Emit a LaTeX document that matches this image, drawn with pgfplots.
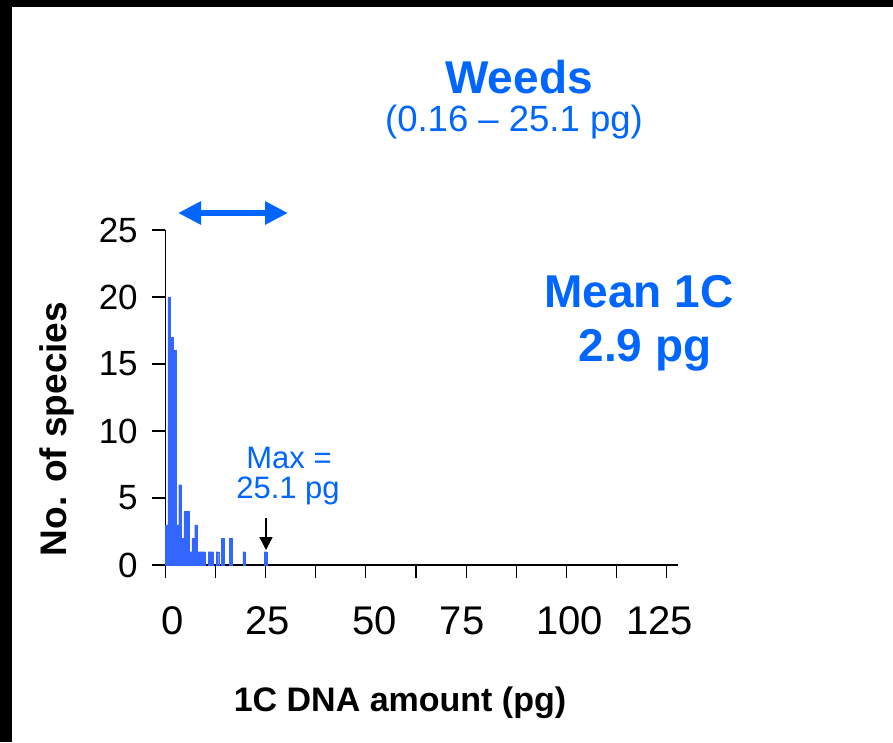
\documentclass[border=0pt]{standalone}
\usepackage{fontspec}
\setmainfont{Liberation Sans}
\usepackage{pgfplots}
\pgfplotsset{compat=1.18}
\usetikzlibrary{arrows.meta}
\definecolor{barblue}{HTML}{3366FF}
\definecolor{txtblue}{HTML}{0066FF}
\newcommand\fs[1]{\fontsize{#1}{#1}\selectfont}
% tick label nudged sideways, as in the original slide
\newcommand\nudge[2]{\makebox[0pt][c]{\kern#1 #2\kern-#1}}

\begin{document}
\begin{tikzpicture}[x=1pt,y=1pt]
\useasboundingbox (0,0) rectangle (893,742);
% frame bands
\fill[black] (0,735) rectangle (893,742);
\fill[black] (0,0) rectangle (12,742);

\begin{axis}[
  at={(154pt,177pt)}, anchor=south west,
  scale only axis, width=524pt, height=335pt,
  xmin=-2.8, xmax=127.8, ymin=0, ymax=25,
  axis x line*=bottom, axis y line*=center,
  hide obscured x ticks=false, hide obscured y ticks=false,
  axis line style={line width=1.2pt},
  tick align=outside, major tick length=13pt,
  tick style={line width=1.1pt, black},
  xtick={0,12.5,...,125},
  xticklabels={\nudge{7pt}{0},,\nudge{2pt}{25},,\nudge{9pt}{50},,
    \nudge{-4pt}{75},,\nudge{3pt}{100},,\nudge{-7pt}{125}},
  ytick={0,5,...,25},
  xticklabel style={font=\fs{40}, yshift=-25pt},
  yticklabel style={font=\fs{35}, xshift=-11pt},
  /pgf/number format/assume math mode=true,
  clip=false,
]
% 1C values binned at 2/3 pg, bar centres
\addplot[ybar, bar width=0.6667, fill=barblue, draw=barblue, line width=0.2pt]
coordinates {(0.333,3) (1.0,20) (1.667,17) (2.333,16) (3.0,3) (3.667,6)
  (4.333,2) (5.0,4) (5.667,4) (6.333,1) (7.0,2) (7.667,3) (8.333,1)
  (9.0,1) (9.667,1) (11.0,1) (11.667,1) (13.0,1) (14.333,2) (16.333,2)
  (19.667,1) (25.0,1)};
\end{axis}

\node[rotate=90, font=\bfseries\fs{37}] at (57,313) {No. of species};
\node[anchor=base, font=\bfseries\fs{34}] at (400,31) {1C DNA amount (pg)};

\node[anchor=base, text=txtblue, font=\bfseries\fs{46}] at (519,648) {Weeds};
\node[anchor=base, text=txtblue, font=\fs{36.5}] at (514,610) {(0.16 -- 25.1 pg)};
\node[anchor=base, text=txtblue, font=\bfseries\fs{46}] at (639,434) {Mean 1C};
\node[anchor=base, text=txtblue, font=\bfseries\fs{46}] at (645,380) {2.9 pg};
\node[anchor=base, text=txtblue, font=\fs{31}] at (289,274) {Max =};
\node[anchor=base, text=txtblue, font=\fs{31}] at (288,244) {25.1 pg};

\draw[line width=1.4pt, -{Triangle[length=13pt,width=13pt]}] (266,224) -- (266,192);
\draw[txtblue, line width=6.5pt,
  {Triangle[length=23pt,width=22pt]}-{Triangle[length=23pt,width=22pt]}]
  (178,529) -- (288,529);
\end{tikzpicture}
\end{document}
